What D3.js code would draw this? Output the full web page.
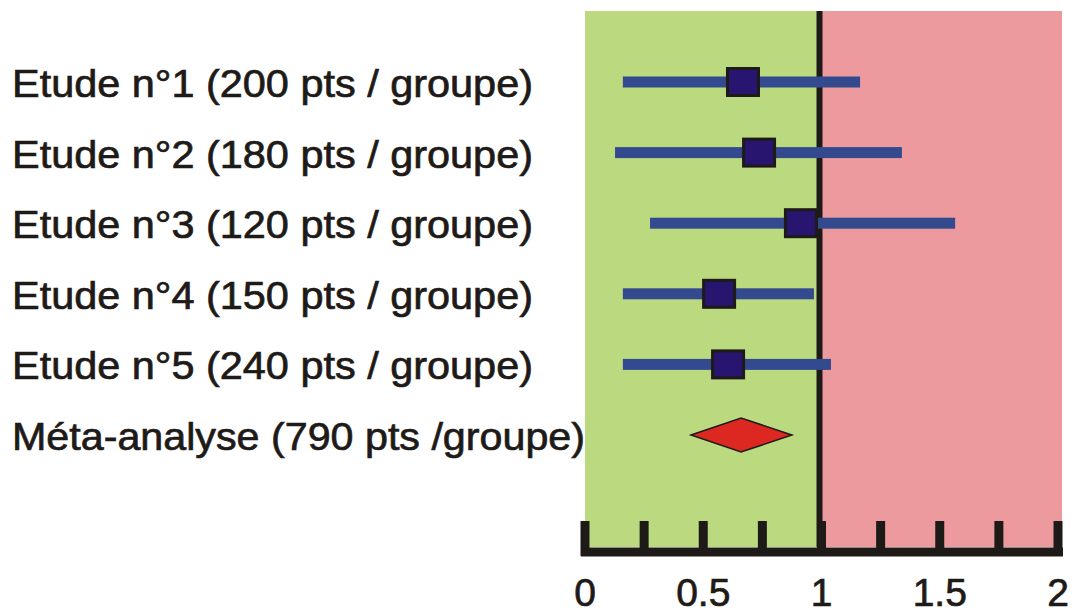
<!DOCTYPE html>
<html>
<head>
<meta charset="utf-8">
<script src="https://cdn.jsdelivr.net/npm/d3@7"></script>
<style>
  html, body { margin: 0; padding: 0; background: #fff; }
  text { font-family: "Liberation Sans", Arial, sans-serif; fill: #1e1a18; stroke: #1e1a18; stroke-width: 0.7px; }
</style>
</head>
<body>
<svg id="chart" width="1074" height="613"></svg>
<script>
// studies (odds ratio + confidence interval)
const studies = [
  'Etude n°1 (200 pts / groupe)',
  'Etude n°2 (180 pts / groupe)',
  'Etude n°3 (120 pts / groupe)',
  'Etude n°4 (150 pts / groupe)',
  'Etude n°5 (240 pts / groupe)',
];
const estimate = [0.668, 0.736, 0.913, 0.567, 0.605];
const lower = [0.16, 0.127, 0.275, 0.16, 0.16];
const upper = [1.163, 1.34, 1.565, 0.968, 1.04];

const metaLabel = 'Méta-analyse (790 pts /groupe)';
const metaEst = 0.66;
const metaLow = 0.448;
const metaHigh = 0.875;

const tickVals = [0, 0.25, 0.5, 0.75, 1, 1.25, 1.5, 1.75, 2];
const tickLabels = ['0', '0.5', '1', '1.5', '2'];

const svg = d3.select('#chart');
const x = d3.scaleLinear().domain([0, 2]).range([585, 1058]);
const rows = studies.concat([metaLabel]);
const y = d3.scalePoint().domain(rows).range([82, 435]);
const plotTop = 11, plotBottom = 547;

// background zones
svg.append('rect').attr('x', x(0)).attr('y', plotTop)
  .attr('width', x(1) - x(0)).attr('height', plotBottom - plotTop).attr('fill', '#bbda80');
svg.append('rect').attr('x', x(1)).attr('y', plotTop)
  .attr('width', x(2) + 4 - x(1)).attr('height', plotBottom - plotTop).attr('fill', '#ec9a9e');

// line of no effect
svg.append('line').attr('x1', x(1) - 2).attr('x2', x(1) - 2)
  .attr('y1', plotTop).attr('y2', plotBottom)
  .attr('stroke', '#1e1a18').attr('stroke-width', 6);

// axis
const axisG = svg.append('g').attr('transform', `translate(0,${plotBottom + 5})`);
axisG.append('line').attr('x1', x(0) - 4).attr('x2', x(2) + 5)
  .attr('stroke', '#1e1a18').attr('stroke-width', 9);
axisG.selectAll('line.tick').data(tickVals).join('line')
  .attr('class', 'tick')
  .attr('x1', d => x(d)).attr('x2', d => x(d))
  .attr('y1', -31).attr('y2', 4)
  .attr('stroke', '#1e1a18').attr('stroke-width', 9);
axisG.selectAll('text').data(tickLabels).join('text')
  .attr('x', d => x(+d)).attr('y', 54)
  .attr('text-anchor', 'middle')
  .attr('font-size', 39)
  .text(d => d);

// labels
svg.selectAll('text.label').data(rows).join('text')
  .attr('class', 'label')
  .attr('x', 12).attr('y', d => y(d) + 15)
  .attr('font-size', 39)
  .attr('textLength', (d, i) => i < studies.length ? 521 : 573)
  .attr('lengthAdjust', 'spacingAndGlyphs')
  .text(d => d);

// confidence intervals
svg.selectAll('rect.ci').data(studies).join('rect')
  .attr('class', 'ci')
  .attr('x', (d, i) => x(lower[i]))
  .attr('width', (d, i) => x(upper[i]) - x(lower[i]))
  .attr('y', d => y(d) - 5.5).attr('height', 11)
  .attr('fill', '#344a8f');

// point estimates
svg.selectAll('rect.pt').data(studies).join('rect')
  .attr('class', 'pt')
  .attr('x', (d, i) => x(estimate[i]) - 15.5)
  .attr('y', d => y(d) - 13.5)
  .attr('width', 31).attr('height', 27)
  .attr('fill', '#281570')
  .attr('stroke', '#1e1a18').attr('stroke-width', 3);

// meta-analysis diamond
const my = y(metaLabel);
svg.append('path')
  .attr('d', `M${x(metaLow)},${my} L${x(metaEst)},${my - 17} L${x(metaHigh)},${my} L${x(metaEst)},${my + 17} Z`)
  .attr('fill', '#dc2820').attr('stroke', '#1e1a18').attr('stroke-width', 1.5);
</script>
</body>
</html>
